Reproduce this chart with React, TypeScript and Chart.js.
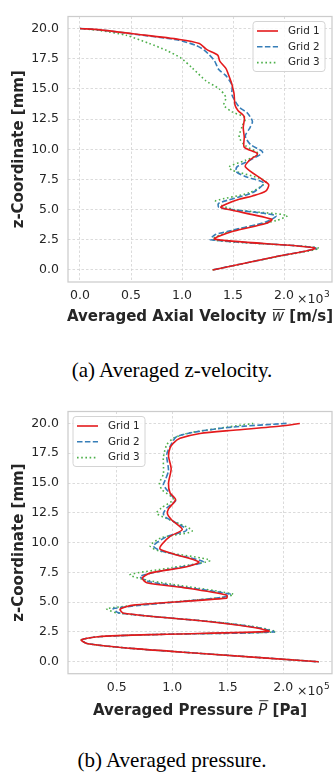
import React, { useEffect, useRef } from 'react';
import { Chart, registerables } from 'chart.js';

Chart.register(...registerables);

const seriesLabels = ['Grid 1', 'Grid 2', 'Grid 3'];
const seriesColors = ['#e41a1c', '#377eb8', '#4daf4a'];
const seriesDash = [[], [5.5, 2.4], [1.6, 2.6]];

// (a) averaged axial velocity, x in units of 10^3 m/s, z in mm
const zVelGrid1 = [20, 19.89, 19.57, 19.1, 18.76, 18.27, 17.8, 17.3, 16.7, 16.3, 15.5, 15.0, 14.6, 13.65, 13.2, 12.7, 11.8, 11.0, 10.16, 9.62, 9.08, 8.55, 7.47, 7.06, 6.53, 6.13, 5.85, 5.45, 5.19, 5.0, 4.19, 3.84, 3.2, 2.55, 1.82, 1.15, 0];
const wVelGrid1 = [0, 0.2, 0.52, 0.975, 1.17, 1.24, 1.35, 1.37, 1.43, 1.45, 1.485, 1.5, 1.51, 1.52, 1.55, 1.61, 1.6, 1.61, 1.61, 1.74, 1.66, 1.62, 1.79, 1.85, 1.82, 1.69, 1.56, 1.43, 1.38, 1.46, 1.88, 1.82, 1.5, 1.32, 2.3, 1.95, 1.3];
const zVelGrid2 = [20, 19.89, 19.55, 19.05, 18.6, 18.2, 17.8, 17.3, 16.6, 16.1, 15.3, 14.5, 13.5, 13.0, 12.3, 11.7, 11.1, 10.4, 9.76, 9.2, 8.55, 8.15, 7.74, 7.2, 6.4, 5.53, 5.2, 5.0, 4.5, 3.97, 3.2, 2.9, 2.5, 1.82, 1.15, 0];
const wVelGrid2 = [0, 0.2, 0.52, 0.96, 1.14, 1.22, 1.27, 1.32, 1.36, 1.43, 1.49, 1.49, 1.56, 1.64, 1.69, 1.66, 1.62, 1.67, 1.79, 1.69, 1.54, 1.53, 1.62, 1.8, 1.69, 1.36, 1.36, 1.49, 1.92, 1.82, 1.45, 1.32, 1.28, 2.31, 1.95, 1.3];
const zVelGrid3 = [20, 19.84, 19.44, 18.76, 18.2, 17.55, 16.74, 15.67, 15.0, 14.3, 13.65, 13.1, 12.6, 11.9, 11.0, 10.3, 9.62, 9.08, 8.55, 8.27, 7.34, 6.4, 5.73, 5.45, 5.0, 4.52, 4.11, 3.2, 2.5, 1.82, 1.15, 0];
const wVelGrid3 = [0, 0.195, 0.455, 0.68, 0.845, 0.99, 1.1, 1.235, 1.365, 1.43, 1.41, 1.49, 1.62, 1.59, 1.56, 1.62, 1.75, 1.62, 1.46, 1.49, 1.82, 1.66, 1.33, 1.36, 1.51, 2.03, 1.93, 1.47, 1.3, 2.34, 1.96, 1.3];

// (b) averaged pressure, x in units of 10^5 Pa, z in mm
const zPresGrid1 = [20, 19.78, 19.43, 19.16, 18.75, 18.35, 17.95, 17.27, 16.2, 14.98, 14.17, 13.6, 12.83, 12.4, 11.88, 11.1, 10.53, 9.86, 9.46, 9.05, 8.38, 7.98, 7.44, 7.03, 6.63, 6.22, 5.6, 5.34, 4.75, 4.42, 4.07, 3.3, 2.85, 2.55, 2.3, 2.1, 1.83, 1.51, 1.1, 0.7, 0];
const pPresGrid1 = [2.15, 1.98, 1.55, 1.25, 1.07, 1.01, 0.98, 0.966, 0.99, 0.966, 0.98, 1.03, 0.966, 0.957, 0.997, 1.09, 0.98, 0.907, 0.89, 1.01, 1.24, 1.13, 0.8, 0.73, 0.77, 1.1, 1.49, 1.49, 0.65, 0.53, 0.56, 1.4, 1.75, 1.87, 0.9, 0.33, 0.18, 0.24, 0.66, 1.26, 2.32];
const zPresGrid2 = [20, 19.7, 19.35, 18.9, 18.35, 17.4, 16.06, 15.25, 14.85, 13.77, 13.5, 12.9, 12.43, 12.15, 11.07, 10.5, 9.72, 9.3, 8.38, 7.9, 7.17, 6.7, 5.68, 5.4, 4.47, 4.1, 3.3, 2.85, 2.5, 2.3, 2.1, 1.83, 1.51, 1.1, 0.7, 0];
const pPresGrid2 = [2.03, 1.55, 1.25, 1.04, 0.997, 0.95, 0.966, 0.937, 0.92, 1.01, 1.03, 0.95, 0.92, 0.937, 1.13, 0.95, 0.83, 0.9, 1.28, 1.05, 0.71, 0.8, 1.52, 1.45, 0.47, 0.52, 1.42, 1.78, 1.915, 0.9, 0.33, 0.18, 0.24, 0.66, 1.26, 2.32];
const zPresGrid3 = [20, 19.56, 19.16, 18.75, 18.2, 17.13, 15.79, 14.98, 14.44, 13.64, 12.9, 12.43, 11.0, 10.4, 9.72, 9.3, 8.51, 7.9, 7.3, 6.8, 5.68, 5.4, 4.47, 4.1, 3.3, 2.85, 2.5, 2.3, 2.1, 1.83, 1.51, 1.1, 0.7, 0];
const pPresGrid3 = [1.73, 1.4, 1.13, 1.01, 0.95, 0.92, 0.92, 0.885, 0.907, 1.01, 0.9, 0.86, 1.18, 0.9, 0.8, 0.88, 1.34, 1.0, 0.62, 0.8, 1.55, 1.45, 0.41, 0.5, 1.43, 1.8, 1.93, 0.9, 0.33, 0.18, 0.24, 0.66, 1.26, 2.32];

const zTicks = [0, 2.5, 5, 7.5, 10, 12.5, 15, 17.5, 20];
const velTicks = [0, 0.5, 1, 1.5, 2];
const presTicks = [0.5, 1, 1.5, 2];

const FONT = '"DejaVu Sans", sans-serif';
const TEXT = '#262626';

type Part = { text: string; font: string; over?: boolean; overLift?: number };

function makeDecor(cfg: any) {
  return {
    id: 'decor',
    afterDraw(chart: any) {
      const { ctx, chartArea: ca } = chart;
      ctx.save();
      ctx.setLineDash([]);
      ctx.strokeStyle = '#cccccc';
      ctx.lineWidth = 1.25;
      ctx.strokeRect(ca.left, ca.top, ca.right - ca.left, ca.bottom - ca.top);

      // legend
      const bw = 72;
      const bh = 50;
      const bx = cfg.legendCorner === 'tr' ? ca.right - 7 - bw : ca.left + 5;
      const by = ca.top + 5;
      ctx.beginPath();
      if (ctx.roundRect) ctx.roundRect(bx, by, bw, bh, 3);
      else ctx.rect(bx, by, bw, bh);
      ctx.fillStyle = 'rgba(255,255,255,0.85)';
      ctx.fill();
      ctx.strokeStyle = '#d4d4d4';
      ctx.lineWidth = 1;
      ctx.stroke();
      chart.data.datasets.forEach((ds: any, i: number) => {
        const y = by + 9.5 + i * 15.8;
        ctx.beginPath();
        ctx.setLineDash(ds.borderDash || []);
        ctx.strokeStyle = ds.borderColor;
        ctx.lineWidth = ds.borderWidth;
        ctx.moveTo(bx + 4, y);
        ctx.lineTo(bx + 25, y);
        ctx.stroke();
        ctx.setLineDash([]);
        ctx.fillStyle = TEXT;
        ctx.font = '10.4px ' + FONT;
        ctx.textAlign = 'left';
        ctx.textBaseline = 'middle';
        ctx.fillText(ds.label, bx + 35, y);
      });

      // x axis title (mixed fonts)
      const parts: Part[] = cfg.titleParts;
      ctx.textBaseline = 'alphabetic';
      ctx.textAlign = 'left';
      let total = 0;
      const widths = parts.map((p) => {
        ctx.font = p.font;
        const w = ctx.measureText(p.text).width;
        total += w;
        return w;
      });
      let x = (ca.left + ca.right) / 2 - total / 2;
      const base = ca.bottom + cfg.titleBaseline;
      parts.forEach((p, i) => {
        ctx.font = p.font;
        ctx.fillStyle = TEXT;
        ctx.fillText(p.text, x, base);
        if (p.over) {
          ctx.beginPath();
          ctx.strokeStyle = TEXT;
          ctx.lineWidth = 0.9;
          const oy = base - (p.overLift || 11);
          ctx.moveTo(x + 1, oy);
          ctx.lineTo(x + widths[i] + 1, oy);
          ctx.stroke();
        }
        x += widths[i];
      });

      // offset text  x10^n
      const ox = ca.right - 35;
      const oy = ca.bottom + 17;
      ctx.font = '12.5px ' + FONT;
      ctx.textBaseline = 'middle';
      ctx.fillStyle = TEXT;
      ctx.fillText('×10', ox, oy + 1);
      const w10 = ctx.measureText('×10').width;
      ctx.font = '9px ' + FONT;
      ctx.fillText(cfg.exponent, ox + w10 + 0.5, oy - 4);
      ctx.restore();
    },
  };
}

function zip(xs: number[], zs: number[]) {
  return zs.map((z, i) => ({ x: xs[i], y: z }));
}

function ProfileChart(props: any) {
  const ref = useRef<HTMLCanvasElement>(null);
  useEffect(() => {
    const datasets = props.series.map((s: any, i: number) => ({
      label: seriesLabels[i],
      data: zip(s[0], s[1]),
      showLine: true,
      borderColor: seriesColors[i],
      backgroundColor: seriesColors[i],
      borderDash: seriesDash[i],
      borderWidth: 1.6,
      pointRadius: 0,
      tension: 0.25,
      borderCapStyle: 'butt',
    }));
    const chart = new Chart(ref.current as HTMLCanvasElement, {
      type: 'scatter',
      data: { datasets },
      options: {
        animation: false,
        responsive: false,
        devicePixelRatio: 1,
        layout: { padding: { top: props.padTop, right: 2, left: 0, bottom: 10 } },
        plugins: { legend: { display: false }, tooltip: { enabled: false } },
        scales: {
          x: {
            type: 'linear',
            min: props.xMin,
            max: props.xMax,
            afterBuildTicks: (s: any) => {
              s.ticks = props.xTicks.map((v: number) => ({ value: v }));
            },
            afterFit: (s: any) => {
              s.height = props.xAxisH;
            },
            ticks: {
              autoSkip: false,
              maxRotation: 0,
              padding: 6.5,
              color: TEXT,
              font: { family: FONT, size: 12.5 },
              callback: (v: any) => Number(v).toFixed(1),
            },
            grid: { color: '#d2d2d2', lineWidth: 0.8, drawTicks: false },
            border: { display: false, dash: [2.5, 2] },
          },
          y: {
            type: 'linear',
            min: -1,
            max: 21,
            afterBuildTicks: (s: any) => {
              s.ticks = zTicks.map((v) => ({ value: v }));
            },
            afterFit: (s: any) => {
              s.width = 68;
            },
            ticks: {
              autoSkip: false,
              padding: 9,
              color: TEXT,
              font: { family: FONT, size: 12.5 },
              callback: (v: any) => Number(v).toFixed(1),
            },
            grid: { color: '#d2d2d2', lineWidth: 0.8, drawTicks: false },
            border: { display: false, dash: [2.5, 2] },
            title: {
              display: true,
              text: 'z-Coordinate [mm]',
              color: TEXT,
              font: { family: FONT, size: 15, weight: 'bold', lineHeight: 1.2 },
              padding: { top: 10, bottom: 0 },
            },
          },
        },
      },
      plugins: [makeDecor(props.decor)],
    } as any);
    return () => chart.destroy();
  }, []);
  return (
    <canvas
      ref={ref}
      width={334}
      height={props.height}
      style={{ position: 'absolute', left: 0, top: props.top, width: 334, height: props.height }}
    />
  );
}

const captionStyle: React.CSSProperties = {
  position: 'absolute',
  left: 10,
  width: 324,
  textAlign: 'center',
  fontFamily: '"Liberation Serif", "Times New Roman", serif',
  fontSize: 21,
  lineHeight: '24px',
  color: '#000',
  whiteSpace: 'nowrap',
};

export default function App() {
  const bold = 'bold 15px ' + FONT;
  const ital = 'oblique 15px ' + FONT;
  return (
    <div style={{ position: 'absolute', left: 0, top: 0, width: 334, height: 777, background: '#fff', overflow: 'hidden' }}>
      <ProfileChart
        top={0}
        height={332}
        padTop={7.6}
        xAxisH={40}
        xMin={-0.1175}
        xMax={2.47}
        xTicks={velTicks}
        series={[
          [wVelGrid1, zVelGrid1],
          [wVelGrid2, zVelGrid2],
          [wVelGrid3, zVelGrid3],
        ]}
        decor={{
          legendCorner: 'tr',
          exponent: '3',
          titleBaseline: 38.5,
          titleParts: [
            { text: 'Averaged Axial Velocity ', font: bold },
            { text: 'w', font: ital, over: true, overLift: 11 },
            { text: ' [m/s]', font: bold },
          ],
        }}
      />
      <div style={{ ...captionStyle, top: 358 }}>(a) Averaged z-velocity.</div>
      <ProfileChart
        top={395}
        height={329}
        padTop={7.7}
        xAxisH={40.3}
        xMin={0.06}
        xMax={2.44}
        xTicks={presTicks}
        series={[
          [pPresGrid1, zPresGrid1],
          [pPresGrid2, zPresGrid2],
          [pPresGrid3, zPresGrid3],
        ]}
        decor={{
          legendCorner: 'tl',
          exponent: '5',
          titleBaseline: 41,
          titleParts: [
            { text: 'Averaged Pressure ', font: bold },
            { text: 'P', font: ital, over: true, overLift: 14 },
            { text: ' [Pa]', font: bold },
          ],
        }}
      />
      <div style={{ ...captionStyle, top: 748 }}>(b) Averaged pressure.</div>
    </div>
  );
}
